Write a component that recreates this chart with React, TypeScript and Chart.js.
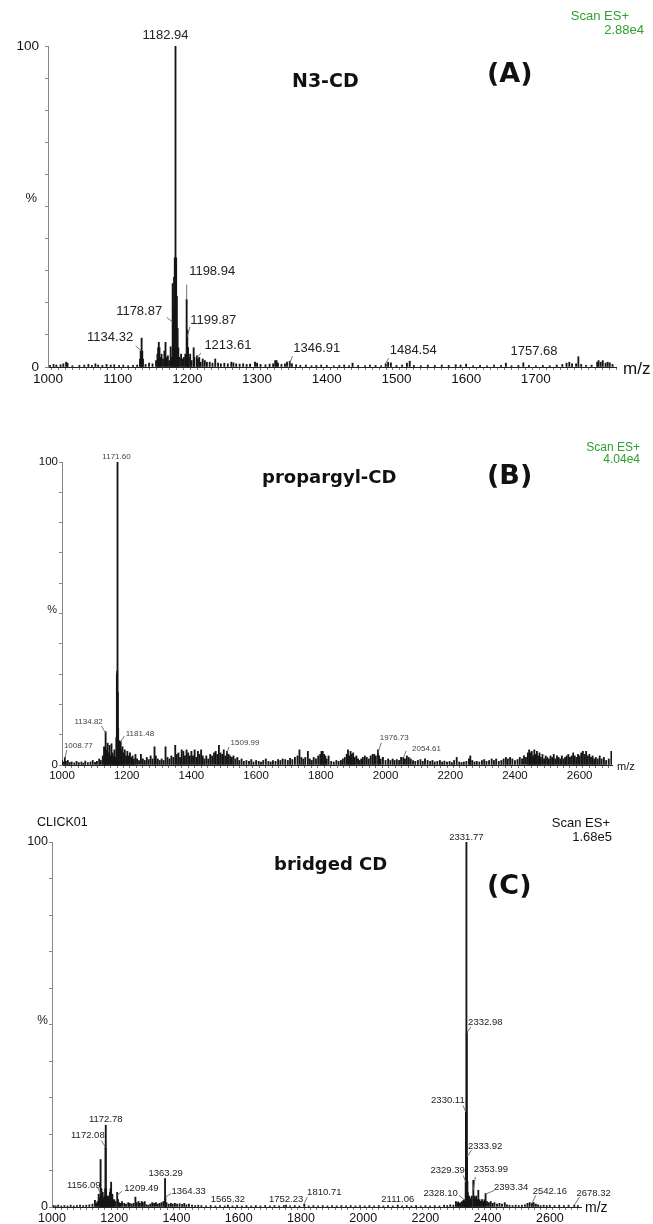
import { useEffect, useRef } from 'react';
import { Chart, registerables } from 'chart.js';
Chart.register(...registerables);

// ---------------- DATA ----------------
// Panel A : N3-CD  (m/z, relative intensity %)
const mzA = [1003,1008,1012,1018,1022,1026,1028,1035,1045,1052,1058,1063,1068,1072,1078,1084,1090,1095,1102,1108,1115,1122,1128,
  1132,1133,1134.32,1135.3,1136.3,1140,1145,1150,1155,1157,1158,1159,1160,1161,1163,1165,1167,1168.6,1170,1172,1174,1176,1177,
  1178.87,1179.9,1180.9,1181.9,1182.94,1183.9,1184.9,1186,1187,1189,1191,1193,1195,1197,1198.94,1199.87,1201,1202,1204,1206,1209,1210,
  1213.61,1215,1217,1219,1222,1225,1228,1232,1236,1240,1244,1248,1253,1258,1263,1266,1270,1275,1280,1285,1290,1297,1300,1305,1312,
  1318,1323,1326,1328,1330,1335,1340,1343,1346.91,1350,1356,1362,1370,1378,1385,1392,1400,1410,1418,1425,1432,1437,1445,1455,1462,
  1470,1478,1484.54,1488,1492,1500,1508,1515,1519,1525,1535,1545,1555,1565,1575,1585,1592,1600,1610,1620,1630,1640,1650,1657,1665,
  1675,1682,1690,1700,1710,1720,1730,1738,1744,1748,1752,1757.68,1761,1765,1772,1780,1788,1790,1793,1796,1800,1803,1806,1810];
const intA = [0.5,0.8,0.6,0.7,1.0,1.5,1.2,0.4,0.5,0.6,0.8,0.5,1.0,0.6,0.5,0.8,0.6,0.7,0.5,0.6,0.4,0.5,0.6,
  2.5,5,9,5,2.5,0.8,1.2,1.0,2,4,6,7.7,6,3,4,2.5,5,7.7,3,3.5,2,6.3,3,
  26,18,28,34,100,34,22,12,6,3,4,2.5,3,4,21,11.5,6,3,4,2,6,3,
  3.5,2.5,3,1.5,2.5,2,1.5,1.5,1.2,2.5,1.2,1.0,1.2,1.0,1.5,1.3,1.0,0.9,1.0,0.8,0.9,1.5,1.2,0.8,0.7,
  0.9,1.0,2,2,1.2,0.8,1.0,1.5,1.8,1.0,0.7,0.5,0.6,0.4,0.5,0.6,0.5,0.4,0.5,0.6,0.4,1.2,0.5,0.4,0.6,
  0.5,0.4,1.0,1.5,1.3,0.5,0.6,1.2,1.8,0.5,0.4,0.6,0.5,0.6,0.5,0.7,0.6,0.9,0.4,0.5,0.4,0.6,0.5,1.2,0.4,
  0.5,1.3,0.5,0.4,0.5,0.4,0.6,0.8,1.2,1.5,1.0,1.0,3.2,0.8,0.5,0.6,1.5,2,1.5,2,1.2,1.5,1.3,0.8];
const labelsA = ['1182.94','1178.87','1198.94','1199.87','1134.32','1213.61','1346.91','1484.54','1757.68'];
const labelAtA = [100,14,21,9.4,5,2.8,1.2,1.2,1.0];
const xTicksA = [1000,1100,1200,1300,1400,1500,1600,1700];

// Panel B : propargyl-CD
const mzB = [1000,1004,1008.77,1012,1018,1024,1030,1038,1045,1052,1060,1066,1072,1080,1088,1095,1102,1108,1115,1120,1126,1130,1132,
  1134.82,1137,1141,1144,1147,1150,1153,1156,1159,1162,1165,1168,1169.6,1170.6,1171.6,1172.6,1173.6,1175,1178,1181.48,1184,1187,1190,
  1194,1198,1202,1206,1210,1214,1218,1222,1227,1232,1238,1244,1250,1256,1262,1268,1274,1280,1286,1290,1296,1302,1308,1314,1320,1326,
  1332,1338,1344,1350,1355,1360,1365,1370,1375,1380,1385,1390,1395,1400,1405,1410,1415,1420,1425,1430,1435,1440,1446,1452,1458,1464,
  1470,1475,1480,1485,1490,1495,1500,1505,1509.99,1515,1520,1525,1530,1536,1542,1548,1555,1562,1570,1578,1585,1592,1600,1608,1615,
  1622,1630,1638,1645,1652,1660,1668,1675,1682,1690,1698,1705,1712,1720,1728,1734,1740,1746,1752,1760,1766,1772,1778,1785,1792,1798,
  1802,1806,1810,1814,1818,1824,1832,1840,1848,1855,1862,1868,1874,1880,1884,1888,1892,1896,1900,1905,1910,1915,1920,1925,1930,1936,
  1942,1948,1954,1960,1965,1970,1976.73,1980,1985,1992,2000,2008,2015,2022,2028,2035,2042,2048,2054.61,2060,2066,2072,2078,2085,2092,
  2100,2108,2115,2122,2130,2138,2145,2152,2160,2168,2175,2182,2190,2198,2205,2212,2220,2228,2235,2242,2250,2258,2262,2268,2275,2282,
  2290,2298,2305,2312,2320,2328,2335,2342,2350,2358,2365,2372,2378,2385,2392,2400,2408,2415,2422,2428,2434,2440,2444,2448,2452,2456,
  2460,2464,2468,2472,2476,2480,2485,2490,2495,2500,2505,2510,2515,2520,2525,2530,2535,2540,2545,2550,2555,2560,2565,2570,2575,2580,
  2585,2590,2595,2600,2605,2610,2615,2620,2625,2630,2635,2640,2645,2650,2656,2662,2668,2675,2682,2690,2698];
const intB = [1.5,1.0,2.5,1.2,1.5,0.8,1.0,0.7,1.2,0.8,1.0,0.6,1.3,0.8,1.0,1.5,0.9,1.2,2.0,1.5,3,6,4,
  11,5,7.2,4,6.5,3,7,4,3,5,2.5,9,30,31,100,24,12,6,8,7.7,5,6,4,
  5,3,4.5,3,4,2.5,3,2,3.5,2,1.5,3.5,2,1.5,2.5,1.8,3,2,6,3,2,1.5,2,1.5,6,2.5,
  2,3,2.5,6.5,3.5,4,2.5,5,4.5,3,5,4,3,4.5,3,5,2.5,4.5,3.5,5,3,2,3,2,3.5,3,
  4,4.5,3.5,6.5,4,3.5,5,3,4.5,3.5,3,2.5,3,2,2.5,1.5,2,1.2,1.5,1.2,1.8,1.0,1.5,1.2,1.0,
  1.5,2,1.2,1.0,1.5,1.2,1.8,1.5,2,1.8,1.5,2.2,1.8,2.5,3,5,2.5,2,2.5,4.5,2,1.5,2.5,2,3,3.5,
  4.5,4.5,3.5,3,2,3,1.2,1.0,1.5,1.2,1.5,2,2.5,3.5,5,3,4.5,3.5,4,2.5,3,2,1.5,2,2.5,3,
  2.5,2,3,3.5,3.5,3,5,3,2,2.5,1.5,2,1.5,2,1.5,1.8,1.5,2.5,2.5,2,3,2.5,2,1.5,1.2,
  1.5,1.8,1.2,2,1.5,1.2,1.5,1.0,1.2,1.5,1.0,1.3,1.0,1.2,0.8,1.5,2.5,1.0,0.8,1.0,1.2,2,3,1.5,1.0,1.2,
  1.0,1.5,1.8,1.2,1.5,2,1.5,2,1.2,1.5,2,2.5,2,2.5,2,1.5,1.8,2.5,2,3,2.5,4,5,4,4.5,3,
  5,3.5,4.5,3,4,2.5,3.5,2,3,2.5,2,3,2.5,3.5,2,3,2.5,2,3,2,2.5,3,3.5,2.5,3,4,
  3,2.5,3.5,3,4,4.5,3.5,4.5,3,3.5,2.5,3,2,2.5,2,3,2,2.5,1.5,2,4.5];
const labelsB = ['1171.60','1134.82','1181.48','1008.77','1509.99','1976.73','2054.61'];
const labelAtB = [100,10.6,7.7,2,4,4,2.3];
const xTicksB = [1000,1200,1400,1600,1800,2000,2200,2400,2600];

// Panel C : bridged CD
const mzC = [1005,1012,1020,1030,1040,1050,1060,1070,1080,1090,1100,1110,1120,1130,1138,1142,1146,1150,1153,1156.09,1157,1159,1161,
  1163,1165,1167,1169,1171,1172.08,1172.78,1174,1176,1178,1180,1183,1186,1188,1190,1192,1194,1197,1200,1204,1209.49,1212,1216,1220,
  1225,1232,1238,1245,1250,1256,1262,1268,1272,1278,1282,1288,1292,1298,1304,1310,1316,1322,1328,1334,1340,1346,1352,1358,1363.29,
  1364.33,1368,1375,1382,1388,1395,1402,1410,1418,1425,1432,1440,1450,1460,1470,1480,1495,1510,1525,1540,1555,1565.32,1580,1595,1610,
  1625,1640,1655,1670,1685,1700,1715,1730,1745,1752.23,1765,1780,1795,1810.71,1825,1840,1855,1870,1885,1900,1915,1930,1945,1960,1975,
  1990,2005,2020,2035,2050,2065,2080,2095,2111.06,2125,2140,2155,2170,2185,2200,2215,2230,2245,2260,2270,2280,2290,2298,2303,2306,
  2310,2314,2318,2322,2325,2328.1,2329.39,2330.11,2331.77,2332.98,2333.92,2334.9,2336,2338,2340,2343,2346,2349,2353.99,2356,2360,
  2363,2366,2370,2374,2378,2382,2386,2390,2393.34,2398,2404,2410,2416,2422,2430,2438,2446,2455,2462,2470,2480,2490,2500,2510,2520,
  2528,2535,2542.16,2548,2555,2562,2570,2580,2590,2600,2615,2630,2645,2660,2678.32,2690];
const intC = [0.4,0.3,0.5,0.3,0.4,0.3,0.5,0.3,0.4,0.5,0.4,0.5,0.6,0.8,1.8,1.0,1.5,3.5,2.5,13,4,5,3,
  4,2.5,2,3,5,16.4,22.4,5,3,2.5,3,2.5,4,5,6.8,3,3.5,2,2,1.5,4,2,1.2,1.0,
  1.5,1.0,0.8,1.2,1.0,0.8,1.0,2.7,1.2,1.5,1.0,1.5,1.2,1.5,0.6,0.5,0.8,1.2,1.0,1.2,0.8,1.0,1.2,1.5,7.8,
  2.7,1.2,0.8,1.0,0.8,1.0,0.8,0.9,0.7,1.0,0.6,0.8,0.5,0.4,0.5,0.4,0.3,0.4,0.3,0.4,0.3,0.5,0.3,0.4,0.3,
  0.4,0.3,0.4,0.3,0.4,0.3,0.4,0.3,0.4,0.5,0.3,0.4,0.3,0.8,0.3,0.4,0.3,0.4,0.3,0.4,0.3,0.4,0.3,0.4,0.3,
  0.4,0.3,0.4,0.3,0.4,0.3,0.4,0.3,0.5,0.3,0.4,0.3,0.4,0.3,0.4,0.3,0.4,0.3,0.5,0.4,0.6,0.5,1.5,1.2,1.4,
  1.0,1.2,1.5,1.8,2.0,1.8,6.8,26,100,48,13.7,7,4,3,3,2.5,2,3,7.3,3,2.5,
  3,2,4.6,2,1.5,2,1.5,2,3.7,1.5,1.2,1.5,1.0,1.2,0.8,1.0,0.8,1.2,0.6,0.5,0.4,0.5,0.4,0.5,0.6,
  1.0,1.2,1.0,1.2,0.8,0.6,0.4,0.5,0.4,0.5,0.4,0.5,0.4,0.5,0.5,0.4];
const labelsC = ['2331.77','2332.98','2330.11','2333.92','2329.39','2353.99','2328.10','2393.34','2542.16','2678.32',
  '2111.06','1810.71','1752.23','1565.32','1363.29','1364.33','1209.49','1156.09','1172.08','1172.78'];
const labelAtC = [100,47.7,26,13.7,6.8,4.6,1.8,3.5,1,0.5,0.3,1,0.3,0.3,7.8,2.7,3.2,3.7,16.4,22.4];
const xTicksC = [1000,1200,1400,1600,1800,2000,2200,2400,2600];

const yTickLabels = [0, 100];

// ---------------- LAYOUT / STYLE ----------------
const W = 653;
const SANS = "'Liberation Sans', Arial, sans-serif";
const TITLE = "'DejaVu Sans', sans-serif";
const GREEN = '#2ea02e';

type Txt = { t: string; x: number; y: number; align: CanvasTextAlign; size: number; bold?: boolean; family?: string; color?: string };
type Lay = [number, number, number | null, number | null];

// label layout: [dx, dy] = label centre offset from leader end, [lx, ly] = leader start offset
const layA: Lay[] = [[-10,-11,null,null],[-33.5,-10.7,-6,-4.7],[25.5,-28,0,-15],[26,-16.7,2.5,-10],[-31.5,-14,-6,-5],
  [31,-12.3,4,-5],[27,-15,2.7,-7],[27.5,-12.3,3,-5],[-42,-12,null,null]];
const layB: Lay[] = [[-1,-5,null,null],[-17,-11.3,-4.3,-7],[19.2,-7.7,3.7,-5.7],[13.5,-13,2,-9],[18,-10.3,2,-6],
  [16.3,-15,3.3,-10.3],[23.3,-9,3,-7.3]];
const layC: Lay[] = [[0,-5,null,null],[18.5,-11,4,-6],[-18,-11.7,-3,-6.7],[18,-10.7,4.3,-6.7],[-18,-11.7,-2.4,-6.7],
  [17.5,-21,2,-13.3],[-24.7,-6.7,-6.2,-5],[25.5,-7,9,-4],[18,-12,4,-8],[19.3,-12.3,5.3,-8.3],[0,-6.5,null,null],
  [20,-11,3,-6.3],[0,-7,null,null],[0,-7,null,null],[0.5,-5,null,null],[23.3,-6,5.7,-3.7],[24.3,-7,5,-4.3],
  [-16.8,-8,-3,-6],[-17.7,-11.7,-4.3,-6.7],[0,-6,null,null]];

const PANELS = [
  {
    key: 'A', top: 0, height: 400, area: { left: 48, right: 616, top: 46, bottom: 367 },
    xMin: 1000, xMax: 1815, xStep: 10, xTicks: xTicksA, tickSize: 13.5, xPad: 1, yPad: 6,
    mz: mzA, int: intA, labels: labelsA, at: labelAtA, lay: layA, labelSize: 13, labelColor: '#222',
    pct: { x: 37, dy: -8, size: 13 },
    texts: [
      { t: 'Scan ES+', x: 629, y: 16, align: 'right', size: 13, color: GREEN },
      { t: '2.88e4', x: 644, y: 30, align: 'right', size: 13, color: GREEN },
      { t: 'N3-CD', x: 292, y: 82, align: 'left', size: 19, bold: true, family: TITLE },
      { t: '(A)', x: 487, y: 75, align: 'left', size: 27, bold: true, family: TITLE },
      { t: 'm/z', x: 623, y: 369, align: 'left', size: 17 },
    ] as Txt[],
  },
  {
    key: 'B', top: 400, height: 380, area: { left: 62, right: 612, top: 62, bottom: 365 },
    xMin: 1000, xMax: 2700, xStep: 20, xTicks: xTicksB, tickSize: 11.5, xPad: 1, yPad: 1,
    mz: mzB, int: intB, labels: labelsB, at: labelAtB, lay: layB, labelSize: 8, labelColor: '#444',
    pct: { x: 57, dy: -4, size: 11 },
    texts: [
      { t: 'Scan ES+', x: 640, y: 48, align: 'right', size: 12, color: GREEN },
      { t: '4.04e4', x: 640, y: 60, align: 'right', size: 12, color: GREEN },
      { t: 'propargyl-CD', x: 262, y: 78, align: 'left', size: 18, bold: true, family: TITLE },
      { t: '(B)', x: 487, y: 77, align: 'left', size: 27, bold: true, family: TITLE },
      { t: 'm/z', x: 617, y: 367, align: 'left', size: 11 },
    ] as Txt[],
  },
  {
    key: 'C', top: 780, height: 444, area: { left: 52, right: 581, top: 62, bottom: 427 },
    xMin: 1000, xMax: 2700, xStep: 20, xTicks: xTicksC, tickSize: 12.5, xPad: 1, yPad: 1,
    mz: mzC, int: intC, labels: labelsC, at: labelAtC, lay: layC, labelSize: 9.5, labelColor: '#222',
    pct: { x: 48, dy: -4, size: 12 },
    texts: [
      { t: 'CLICK01', x: 37, y: 43, align: 'left', size: 12.5 },
      { t: 'Scan ES+', x: 610, y: 43, align: 'right', size: 13 },
      { t: '1.68e5', x: 612, y: 57, align: 'right', size: 13 },
      { t: 'bridged CD', x: 274, y: 85, align: 'left', size: 18, bold: true, family: TITLE },
      { t: '(C)', x: 487, y: 107, align: 'left', size: 27, bold: true, family: TITLE },
      { t: 'm/z', x: 585, y: 428, align: 'left', size: 14 },
    ] as Txt[],
  },
];

type Panel = typeof PANELS[number];

function makeChart(canvas: HTMLCanvasElement, p: Panel) {
  const data = p.mz.map((m, i) => ({ x: m, y: p.int[i] }));
  const annot = {
    id: 'annot' + p.key,
    afterDraw(chart: any) {
      const ctx: CanvasRenderingContext2D = chart.ctx;
      const xs = chart.scales.x;
      const ys = chart.scales.y;
      ctx.save();
      // peak labels
      ctx.textAlign = 'center';
      ctx.textBaseline = 'middle';
      ctx.font = `${p.labelSize}px ${SANS}`;
      p.labels.forEach((txt, i) => {
        const px = xs.getPixelForValue(parseFloat(txt));
        const py = ys.getPixelForValue(p.at[i]);
        const [dx, dy, lx, ly] = p.lay[i];
        ctx.fillStyle = p.labelColor;
        ctx.fillText(txt, px + dx, py + dy);
        if (lx !== null && ly !== null) {
          ctx.strokeStyle = '#666';
          ctx.lineWidth = 0.9;
          ctx.beginPath();
          ctx.moveTo(px + lx, py + ly);
          ctx.lineTo(px, py);
          ctx.stroke();
        }
      });
      // % label
      ctx.textAlign = 'right';
      ctx.fillStyle = '#222';
      ctx.font = `${p.pct.size}px ${SANS}`;
      ctx.fillText('%', p.pct.x, ys.getPixelForValue(50) + p.pct.dy);
      // static texts
      p.texts.forEach((t) => {
        ctx.font = `${t.bold ? 'bold ' : ''}${t.size}px ${t.family || SANS}`;
        ctx.fillStyle = t.color || '#111';
        ctx.textAlign = t.align;
        ctx.fillText(t.t, t.x, t.y);
      });
      ctx.restore();
    },
  };
  return new Chart(canvas, {
    type: 'bar',
    data: {
      datasets: [{ data, backgroundColor: '#151515', borderWidth: 0, barThickness: 1.2, grouped: false } as any],
    },
    options: {
      animation: false,
      responsive: false,
      devicePixelRatio: 1,
      layout: { padding: { left: 0, top: p.area.top, right: W - p.area.right, bottom: 0 } },
      plugins: { legend: { display: false }, tooltip: { enabled: false } },
      scales: {
        x: {
          type: 'linear', min: p.xMin, max: p.xMax, offset: false,
          afterFit: (s: any) => { s.height = p.height - p.area.bottom; },
          ticks: {
            stepSize: p.xStep, autoSkip: false, maxRotation: 0, minRotation: 0, includeBounds: false,
            padding: p.xPad, color: '#111', font: { family: SANS, size: p.tickSize },
            callback: (v: any) => (p.xTicks.includes(Number(v)) ? String(v) : ''),
          },
          grid: { display: true, drawOnChartArea: false, drawTicks: true, tickLength: 3, color: '#777' },
          border: { display: true, color: '#222', width: 1 },
        } as any,
        y: {
          min: 0, max: 100,
          afterFit: (s: any) => { s.width = p.area.left; },
          ticks: {
            stepSize: 10, autoSkip: false, padding: p.yPad, color: '#111', font: { family: SANS, size: p.tickSize },
            callback: (v: any) => (yTickLabels.includes(Number(v)) ? String(v) : ''),
          },
          grid: { display: true, drawOnChartArea: false, drawTicks: true, tickLength: 3, color: '#888' },
          border: { display: true, color: '#888', width: 1 },
        } as any,
      },
    },
    plugins: [annot as any],
  });
}

export default function App() {
  const refs = useRef<(HTMLCanvasElement | null)[]>([]);
  useEffect(() => {
    const charts = PANELS.map((p, i) => makeChart(refs.current[i] as HTMLCanvasElement, p));
    return () => charts.forEach((c) => c.destroy());
  }, []);
  return (
    <div style={{ position: 'absolute', left: 0, top: 0, width: W, height: 1224, background: '#fff' }}>
      {PANELS.map((p, i) => (
        <canvas
          key={p.key}
          ref={(el) => { refs.current[i] = el; }}
          width={W}
          height={p.height}
          style={{ position: 'absolute', left: 0, top: p.top, width: W, height: p.height }}
        />
      ))}
    </div>
  );
}
